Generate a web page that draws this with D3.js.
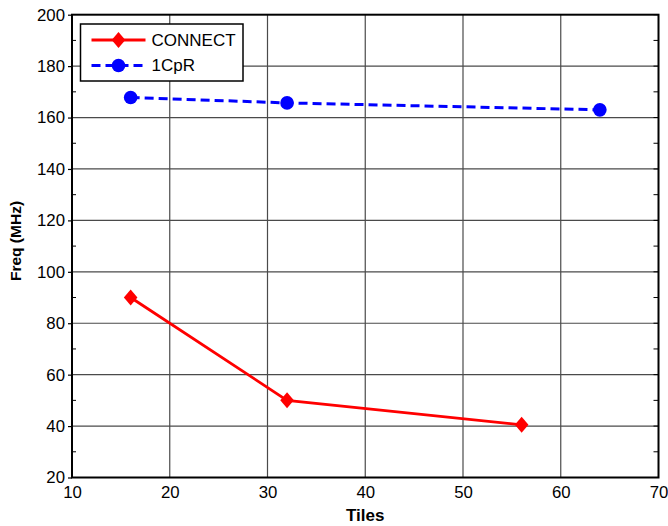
<!DOCTYPE html>
<html>
<head>
<meta charset="utf-8">
<script src="https://cdn.jsdelivr.net/npm/d3@7/dist/d3.min.js"></script>
<style>
  body { margin: 0; background: #fff; }
  svg { display: block; font-family: "Liberation Sans", Arial, sans-serif; }
</style>
</head>
<body>
<svg id="chart" width="668" height="526"></svg>
<script>
// data
const connectTiles = [16, 32, 56];
const connectFreq = [90, 50, 40.5];
const cprTiles = [16, 32, 64];
const cprFreq = [167.8, 165.7, 163];
const xTicks = [10, 20, 30, 40, 50, 60, 70];
const yTicks = [20, 40, 60, 80, 100, 120, 140, 160, 180, 200];
const yMinor = [30, 50, 70, 90, 110, 130, 150, 170, 190];
const seriesNames = ['CONNECT', '1CpR'];

const svg = d3.select('#chart');
const plotL = 72, plotR = 658.5, plotT = 14.7, plotB = 477.5;

const x = d3.scaleLinear().domain([10, 70]).range([plotL, plotR]);
const y = d3.scaleLinear().domain([20, 200]).range([plotB, plotT]);

// grid
const grid = svg.append('g').attr('stroke', '#4a4a4a').attr('stroke-width', 1.2);
grid.selectAll('line.vx')
  .data(xTicks.slice(1, -1))
  .join('line')
  .attr('x1', d => x(d)).attr('x2', d => x(d))
  .attr('y1', plotT).attr('y2', plotB);
grid.selectAll('line.hy')
  .data(yTicks.slice(1, -1))
  .join('line')
  .attr('x1', plotL).attr('x2', plotR)
  .attr('y1', d => y(d)).attr('y2', d => y(d));

// axes
const xAxis = svg.append('g')
  .attr('transform', `translate(0,${plotB})`)
  .call(d3.axisBottom(x).tickValues(xTicks).tickSize(0).tickPadding(9).tickFormat(d3.format('d')));
const yAxis = svg.append('g')
  .attr('transform', `translate(${plotL},0)`)
  .call(d3.axisLeft(y).tickValues(yTicks).tickSize(4).tickPadding(3).tickFormat(d3.format('d')));

[xAxis, yAxis].forEach(a => {
  a.select('.domain').remove();
  a.selectAll('text').attr('font-size', 16.8).attr('fill', '#000').attr('font-family', '"Liberation Sans", Arial, sans-serif');
  a.selectAll('line').attr('stroke', '#000').attr('stroke-width', 1.2);
});

// minor ticks on left and right
svg.append('g').selectAll('line')
  .data(yMinor)
  .join('line')
  .attr('x1', plotL).attr('x2', plotL + 4)
  .attr('y1', d => y(d)).attr('y2', d => y(d))
  .attr('stroke', '#000');
svg.append('g').selectAll('line')
  .data(yMinor.concat(yTicks))
  .join('line')
  .attr('x1', plotR - 5).attr('x2', plotR)
  .attr('y1', d => y(d)).attr('y2', d => y(d))
  .attr('stroke', '#000');

// frame
svg.append('rect')
  .attr('x', plotL).attr('y', plotT)
  .attr('width', plotR - plotL).attr('height', plotB - plotT)
  .attr('fill', 'none').attr('stroke', '#000').attr('stroke-width', 2);

// series
const line = d3.line().x(d => x(d[0])).y(d => y(d[1]));
const connectPts = d3.zip(connectTiles, connectFreq);
const cprPts = d3.zip(cprTiles, cprFreq);

svg.append('path')
  .datum(cprPts)
  .attr('d', line)
  .attr('fill', 'none').attr('stroke', '#0000ff').attr('stroke-width', 3)
  .attr('stroke-dasharray', '9,5');
svg.append('g').selectAll('circle')
  .data(cprPts)
  .join('circle')
  .attr('cx', d => x(d[0])).attr('cy', d => y(d[1]))
  .attr('r', 6.8).attr('fill', '#0000ff');

svg.append('path')
  .datum(connectPts)
  .attr('d', line)
  .attr('fill', 'none').attr('stroke', '#ff0000').attr('stroke-width', 2.8);
// tall diamond marker
const diamond = 'M0,-8L6.8,0L0,8L-6.8,0Z';
svg.append('g').selectAll('path')
  .data(connectPts)
  .join('path')
  .attr('d', diamond)
  .attr('transform', d => `translate(${x(d[0])},${y(d[1])})`)
  .attr('fill', '#ff0000');

// legend
const legend = svg.append('g').attr('transform', 'translate(80.5,24)');
legend.append('rect')
  .attr('width', 162.5).attr('height', 57)
  .attr('fill', '#fff').attr('stroke', '#000').attr('stroke-width', 1.5);
const rows = legend.selectAll('g.row')
  .data(seriesNames)
  .join('g')
  .attr('transform', (d, i) => `translate(0,${16 + i * 25.5})`);
rows.append('line')
  .attr('x1', 11).attr('x2', 65)
  .attr('stroke', (d, i) => i ? '#0000ff' : '#ff0000')
  .attr('stroke-width', (d, i) => i ? 3 : 2.8)
  .attr('stroke-dasharray', (d, i) => i ? '9,5' : null);
rows.filter((d, i) => i === 0).append('path')
  .attr('d', diamond)
  .attr('transform', 'translate(38,0)')
  .attr('fill', '#ff0000');
rows.filter((d, i) => i === 1).append('circle')
  .attr('cx', 38).attr('r', 6.8).attr('fill', '#0000ff');
rows.append('text')
  .attr('x', 71).attr('dy', '0.35em')
  .attr('font-size', 17)
  .text(d => d);

// axis labels
svg.append('text')
  .attr('x', (plotL + plotR) / 2).attr('y', 521)
  .attr('text-anchor', 'middle')
  .attr('font-size', 17).attr('font-weight', 'bold')
  .text('Tiles');
svg.append('text')
  .attr('transform', `translate(21,241) rotate(-90)`)
  .attr('text-anchor', 'middle')
  .attr('font-size', 15.5).attr('font-weight', 'bold')
  .text('Freq (MHz)');
</script>
</body>
</html>
